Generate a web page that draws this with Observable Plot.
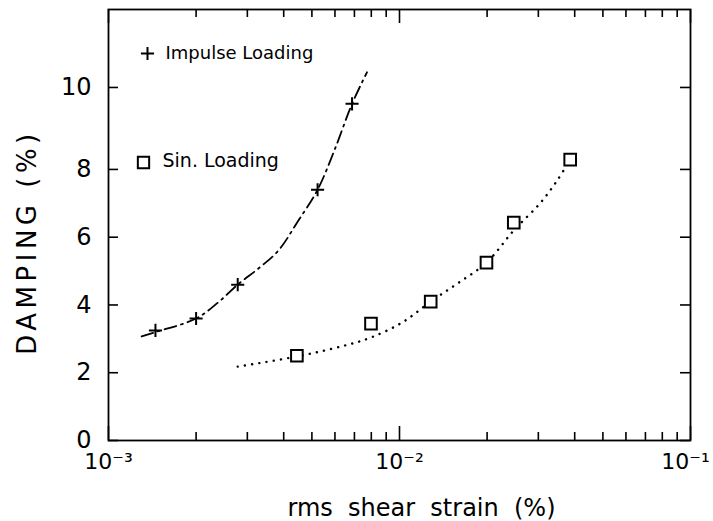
<!DOCTYPE html>
<html>
<head>
<meta charset="utf-8">
<script src="https://cdn.jsdelivr.net/npm/d3@7"></script>
<script src="https://cdn.jsdelivr.net/npm/@observablehq/plot@0.6"></script>
<style>
  html, body { margin: 0; padding: 0; background: #fff; }
  svg { font-family: "DejaVu Sans", sans-serif; }
</style>
</head>
<body>
<div id="chart"></div>
<script>
// Measured points
const impulseStrain  = [1.45e-3, 2.0e-3, 2.78e-3, 5.23e-3, 6.87e-3];
const impulseDamping = [3.25, 3.6, 4.6, 7.4, 9.6];
const sinStrain  = [4.44e-3, 7.98e-3, 1.28e-2, 1.99e-2, 2.47e-2, 3.86e-2];
const sinDamping = [2.5, 3.45, 4.1, 5.25, 6.43, 8.24];

// Fitted curves
const impulseFitStrain  = [1.30e-3, 1.45e-3, 2.0e-3, 2.4e-3, 2.78e-3, 3.3e-3, 3.83e-3, 4.5e-3, 5.23e-3, 6.0e-3, 6.87e-3, 7.73e-3];
const impulseFitDamping = [3.07, 3.2, 3.6, 4.1, 4.6, 5.1, 5.6, 6.5, 7.4, 8.5, 9.6, 10.37];
const sinFitStrain  = [2.78e-3, 4.44e-3, 6.46e-3, 7.98e-3, 1.02e-2, 1.28e-2, 1.58e-2, 1.99e-2, 2.47e-2, 3.04e-2, 3.48e-2, 3.86e-2];
const sinFitDamping = [2.18, 2.48, 2.8, 3.04, 3.48, 4.1, 4.63, 5.25, 6.2, 7.0, 7.67, 8.24];

// Ticks
const yTicks = [0, 2, 4, 6, 8, 10];
const xMajorTicks = [1e-3, 1e-2, 1e-1];
const xMajorLabels = ["10\u207B\u00B3", "10\u207B\u00B2", "10\u207B\u00B9"];
const xMinorTicks = [2,3,4,5,6,7,8,9].flatMap(m => [m * 1e-3, m * 1e-2]);

const legendLabels = ["Impulse Loading", "Sin. Loading"];
const xLabel = "rms  shear  strain  (%)";
const yLabel = "DAMPING (%)";

const W = 713, H = 521;
const mL = 108, mR = 23, mT = 9, mB = 81;
const plotW = W - mL - mR, plotH = H - mT - mB;

// the printed vertical axis is stretched above 8 %
const stretch = 41 / 33.9;
const yWarp = v => (v <= 8 ? v : 8 + (v - 8) * stretch);

const impulse = impulseStrain.map((x, i) => ({x, y: impulseDamping[i]}));
const sin = sinStrain.map((x, i) => ({x, y: sinDamping[i]}));
const impulseFit = impulseFitStrain.map((x, i) => ({x, y: impulseFitDamping[i]}));
const sinFit = sinFitStrain.map((x, i) => ({x, y: sinFitDamping[i]}));
const fmtX = d => xMajorLabels[xMajorTicks.indexOf(d)];

const chart = Plot.plot({
  width: W, height: H,
  marginLeft: mL, marginRight: mR, marginTop: mT, marginBottom: mB,
  style: {fontFamily: "DejaVu Sans, sans-serif", background: "#fff", color: "#000"},
  x: {type: "log", domain: [1e-3, 1e-1]},
  y: {type: "linear", transform: yWarp, domain: [0, 12.72]},
  marks: [
    Plot.frame({stroke: "#000", strokeWidth: 1.8}),
    // inward ticks bottom/top
    Plot.tickX(xMinorTicks, {x: d => d, insetTop: plotH - 8, stroke: "#000", strokeWidth: 1.6}),
    Plot.tickX(xMajorTicks, {x: d => d, insetTop: plotH - 14, stroke: "#000", strokeWidth: 1.6}),
    Plot.tickX(xMinorTicks, {x: d => d, insetBottom: plotH - 8, stroke: "#000", strokeWidth: 1.6}),
    Plot.tickX(xMajorTicks, {x: d => d, insetBottom: plotH - 14, stroke: "#000", strokeWidth: 1.6}),
    // inward ticks left/right
    Plot.tickY(yTicks, {y: d => d, insetRight: plotW - 10, stroke: "#000", strokeWidth: 1.6}),
    Plot.tickY(yTicks, {y: d => d, insetLeft: plotW - 10, stroke: "#000", strokeWidth: 1.6}),
    // axes labels
    Plot.axisY(yTicks, {tickSize: 0, tickPadding: 17, fontSize: 24, tickFormat: d => String(d), label: null}),
    Plot.axisX(xMajorTicks.slice(0, 2), {tickSize: 0, tickPadding: 13, fontSize: 22, tickFormat: fmtX, label: null}),
    Plot.axisX(xMajorTicks.slice(2), {tickSize: 0, tickPadding: 13, fontSize: 22, dx: -5, tickFormat: fmtX, label: null}),
    Plot.text([xLabel], {frameAnchor: "bottom", dx: 22, dy: 75, lineAnchor: "bottom", fontSize: 24, fill: "#000"}),
    Plot.text([yLabel], {frameAnchor: "left", textAnchor: "middle", rotate: -90, dx: -81, dy: 17, fontSize: 26, fill: "#000"}),
    // fitted curves
    Plot.line(impulseFit, {x: "x", y: "y", curve: "catmull-rom", stroke: "#000", strokeWidth: 1.8, strokeDasharray: "12,5,2,5"}),
    Plot.line(sinFit, {x: "x", y: "y", curve: "catmull-rom", stroke: "#000", strokeWidth: 2.4, strokeLinecap: "round", strokeDasharray: "0.1,7.2"}),
    // data points
    Plot.dot(impulse, {x: "x", y: "y", symbol: "plus", r: 4.3, stroke: "#000", strokeWidth: 2}),
    Plot.dot(sin, {x: "x", y: "y", symbol: "square2", r: 7.4, stroke: "#000", strokeWidth: 2, fill: "#fff"}),
    // legend
    Plot.dot([0], {frameAnchor: "top-left", dx: 39, dy: 44, symbol: "plus", r: 4.3, stroke: "#000", strokeWidth: 2}),
    Plot.text([legendLabels[0]], {frameAnchor: "top-left", dx: 57, dy: 44, textAnchor: "start", lineAnchor: "middle", fontSize: 18, fill: "#000"}),
    Plot.dot([0], {frameAnchor: "top-left", dx: 35, dy: 153, symbol: "square2", r: 7.2, stroke: "#000", strokeWidth: 2}),
    Plot.text([legendLabels[1]], {frameAnchor: "top-left", dx: 54, dy: 151, textAnchor: "start", lineAnchor: "middle", fontSize: 19, fill: "#000"})
  ]
});
// widen the letter spacing of the vertical axis title, as printed
d3.select(chart).selectAll("text")
  .filter(function () { return this.textContent === yLabel; })
  .attr("letter-spacing", "4.5px");
document.getElementById("chart").appendChild(chart);
</script>
</body>
</html>
